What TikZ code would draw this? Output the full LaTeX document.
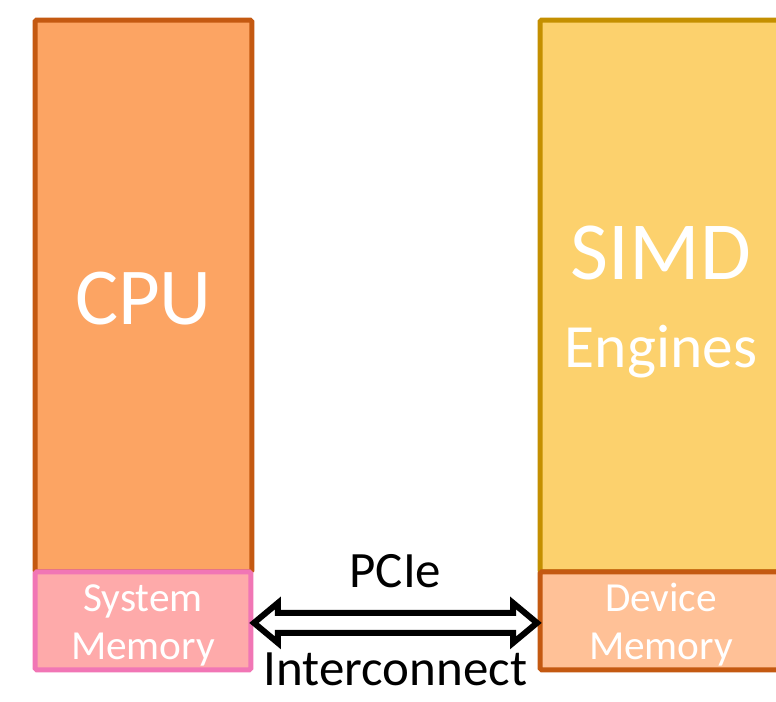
\documentclass[tikz,border=0pt]{standalone}
\usepackage{fontspec}
\setmainfont{Carlito}
\usetikzlibrary{calc,positioning}

\definecolor{cpufill}{HTML}{FCA463}
\definecolor{cpuline}{HTML}{C45911}
\definecolor{simdfill}{HTML}{FCD16D}
\definecolor{simdline}{HTML}{C48F00}
\definecolor{sysfill}{HTML}{FEAAAA}
\definecolor{sysline}{HTML}{F176B5}
\definecolor{devfill}{HTML}{FFC197}

\begin{document}
\begin{tikzpicture}[x=0.02cm,y=-0.02cm,
    unit/.style={draw,line width=0.1cm,rounded corners=1pt,text=white,
      align=center,inner sep=0pt,outer sep=0pt,anchor=north west},
    memory/.style={unit,minimum height=1.96cm,text height=44pt,text depth=0pt,
      font=\fontsize{23.5}{27.2}\selectfont},
    pcie/.style={draw=black,fill=white,line width=0.12cm,line join=miter},
    linklabel/.style={font=\fontsize{29}{34}\selectfont,inner sep=0pt,anchor=base}]
  \clip (0,0) rectangle (776,701);
  \fill[white] (0,0) rectangle (776,701);

  % host side
  \node[unit,fill=cpufill,draw=cpuline,minimum width=4.34cm,minimum height=11.04cm,
    font=\fontsize{46}{50}\selectfont,text height=33pt,text depth=0pt] (cpu)
    at (35,20) {CPU};
  \node[memory,fill=sysfill,draw=sysline,minimum width=4.32cm] (sysmem)
    at (cpu.south west) {System\\Memory};

  % device side
  \node[unit,fill=simdfill,draw=simdline,minimum width=4.84cm,minimum height=11.04cm,
    text height=82pt,text depth=0pt] (simd) at (540,20)
    {{\fontsize{47}{47}\selectfont SIMD}\\[25pt]{\fontsize{35}{47}\selectfont Engines}};
  \node[memory,fill=devfill,draw=cpuline,minimum width=4.84cm] (devmem)
    at (simd.south west) {Device\\Memory};

  % bus between the two memories
  \coordinate (l) at ($(sysmem.east)+(3,2)$);
  \coordinate (r) at ($(devmem.west)+(-3,2)$);
  \draw[pcie] (l) -- ++(24,-20) -- ++(0,10) -- ($(r)+(-24,-10)$) -- ++(0,-10)
    -- (r) -- ++(-24,20) -- ++(0,-10) -- ($(l)+(24,10)$) -- ++(0,10) -- cycle;
  \coordinate (link) at ($(l)!0.5!(r)$);
  \node[linklabel] (pcielbl) at ($(link)+(0,-35)$) {PCIe};
  \node[linklabel] (interlbl) at ($(link)+(0,63)$) {Interconnect};
\end{tikzpicture}
\end{document}
